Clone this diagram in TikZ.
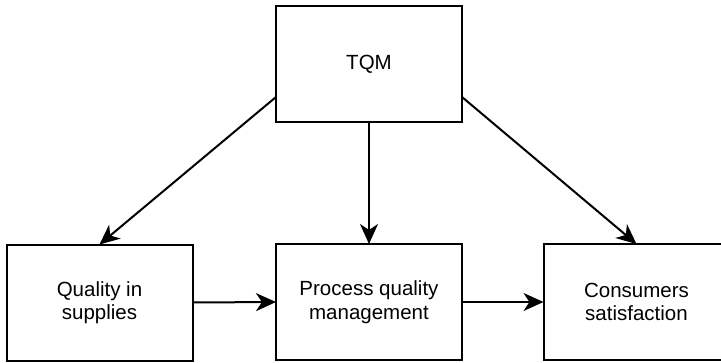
\documentclass[tikz,border=0pt]{standalone}
\usepackage{fontspec}
\setmainfont{Liberation Sans}
\usetikzlibrary{arrows.meta}
\begin{document}
\begin{tikzpicture}[x=1pt,y=1pt,
  box/.style={draw, line width=2pt, minimum width=186pt, minimum height=116pt,
    outer sep=0pt, inner sep=0pt, align=center,
    font=\fontsize{20.5}{23.5}\selectfont},
  conn/.style={line width=2pt, -{Stealth[length=20pt,width=18pt,inset=6pt]}}]
\useasboundingbox (0,0) rectangle (721,-362);
\node[box] (tqm) at (369,-64) {TQM};
\node[box] (sup) at (99.5,-302.5) {Quality in\\supplies};
\node[box] (proc) at (369,-302) {Process quality\\management};
\node[box] (cons) at (636.5,-302) {Consumers\\satisfaction};
\draw[conn] ([yshift=25pt]tqm.south west) -- (sup.north);
\draw[conn] (tqm.south) -- (proc.north);
\draw[conn] ([yshift=25pt]tqm.south east) -- (cons.north);
\draw[conn] (sup.east) -- (proc.west);
\draw[conn] (proc.east) -- (cons.west);
\end{tikzpicture}
\end{document}
